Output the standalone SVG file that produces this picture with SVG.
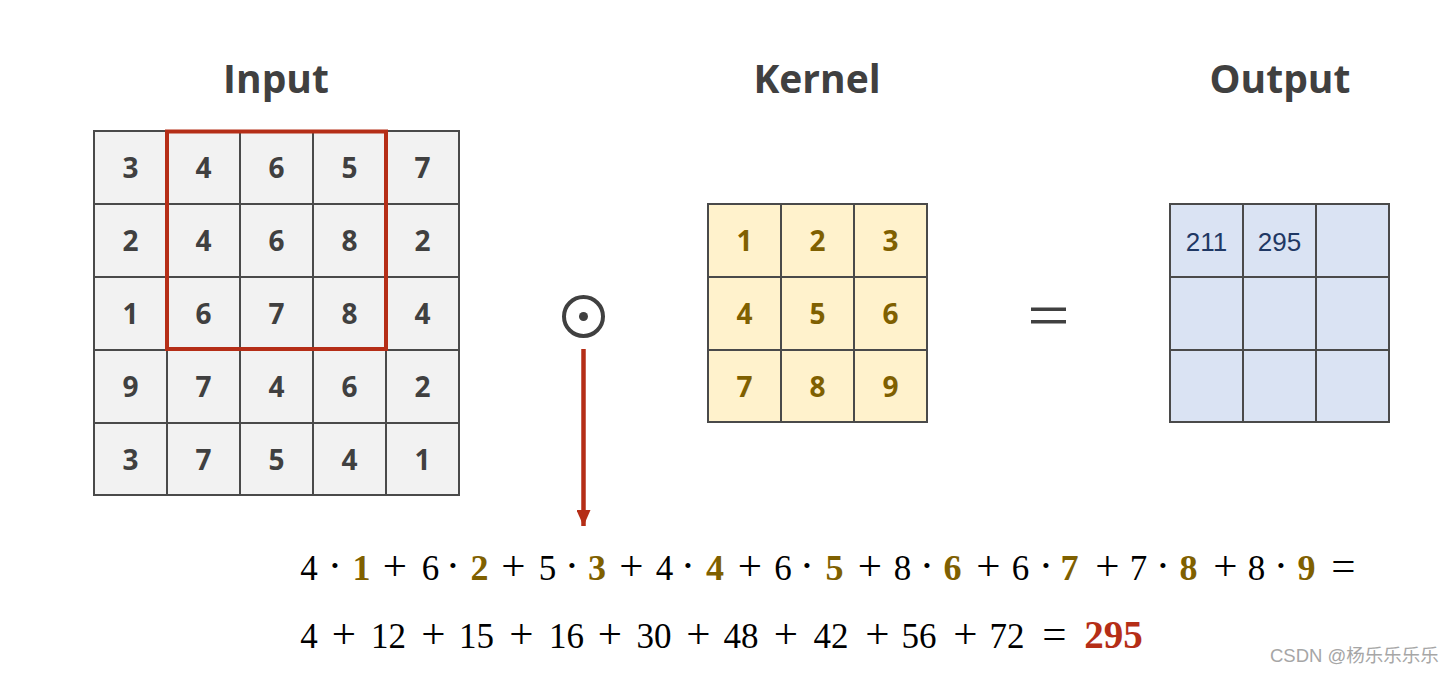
<svg xmlns="http://www.w3.org/2000/svg" width="1455" height="673" viewBox="0 0 1455 673">
<style>
.title{font-family:"Open Sans","Noto Sans","DejaVu Sans",sans-serif;font-weight:bold;font-size:39px;fill:#404040;text-anchor:middle}
.cell{stroke:#4a4a4a;stroke-width:2}
.inp{fill:#F2F2F2}
.ker{fill:#FFF2CC}
.out{fill:#DAE3F3}
.num{font-family:"Open Sans","Noto Sans","DejaVu Sans",sans-serif;font-weight:bold;font-size:28px;text-anchor:middle}
.ni{fill:#404040}
.nk{fill:#7F6000}
.no{font-family:"Liberation Sans",Arial,sans-serif;font-size:26px;fill:#1F3864;text-anchor:middle}
.eq{font-family:"Liberation Serif","DejaVu Serif",serif;font-size:35px;fill:#000;text-anchor:middle}
.op{font-size:43px}
.b{font-weight:bold;fill:#7F6000;font-size:36px}
.r{font-weight:bold;fill:#B52E17;font-size:39px}
.wm{font-family:"Liberation Sans","Noto Sans CJK SC",sans-serif;font-size:18.5px;fill:#A6A6A6}
</style>
<defs>
<marker id="ah" markerWidth="16" markerHeight="14" refX="16" refY="7" orient="auto" markerUnits="userSpaceOnUse" viewBox="0 0 16 14">
<path d="M0,0 L16,7 L0,14 Z" fill="#B52E17"/>
</marker>
</defs>
<rect width="1455" height="673" fill="#FFFFFF"/>

<g id="titles">
<text class="title" x="276" y="93">Input</text>
<text class="title" x="817" y="93">Kernel</text>
<text class="title" x="1280" y="93">Output</text>
</g>

<g id="input">
<g class="cell inp">
<rect x="94" y="131" width="73" height="73"/><rect x="167" y="131" width="73" height="73"/><rect x="240" y="131" width="73" height="73"/><rect x="313" y="131" width="73" height="73"/><rect x="386" y="131" width="73" height="73"/>
<rect x="94" y="204" width="73" height="73"/><rect x="167" y="204" width="73" height="73"/><rect x="240" y="204" width="73" height="73"/><rect x="313" y="204" width="73" height="73"/><rect x="386" y="204" width="73" height="73"/>
<rect x="94" y="277" width="73" height="73"/><rect x="167" y="277" width="73" height="73"/><rect x="240" y="277" width="73" height="73"/><rect x="313" y="277" width="73" height="73"/><rect x="386" y="277" width="73" height="73"/>
<rect x="94" y="350" width="73" height="73"/><rect x="167" y="350" width="73" height="73"/><rect x="240" y="350" width="73" height="73"/><rect x="313" y="350" width="73" height="73"/><rect x="386" y="350" width="73" height="73"/>
<rect x="94" y="423" width="73" height="72"/><rect x="167" y="423" width="73" height="72"/><rect x="240" y="423" width="73" height="72"/><rect x="313" y="423" width="73" height="72"/><rect x="386" y="423" width="73" height="72"/>
</g>
<g class="num ni">
<text x="130.5" y="178">3</text><text x="203.5" y="178">4</text><text x="276.5" y="178">6</text><text x="349.5" y="178">5</text><text x="422.5" y="178">7</text>
<text x="130.5" y="251">2</text><text x="203.5" y="251">4</text><text x="276.5" y="251">6</text><text x="349.5" y="251">8</text><text x="422.5" y="251">2</text>
<text x="130.5" y="324">1</text><text x="203.5" y="324">6</text><text x="276.5" y="324">7</text><text x="349.5" y="324">8</text><text x="422.5" y="324">4</text>
<text x="130.5" y="397">9</text><text x="203.5" y="397">7</text><text x="276.5" y="397">4</text><text x="349.5" y="397">6</text><text x="422.5" y="397">2</text>
<text x="130.5" y="470">3</text><text x="203.5" y="470">7</text><text x="276.5" y="470">5</text><text x="349.5" y="470">4</text><text x="422.5" y="470">1</text>
</g>
<rect id="window" x="167" y="131.5" width="219" height="217.5" fill="none" stroke="#B52E17" stroke-width="4"/>
</g>

<g id="hadamard">
<circle cx="583.5" cy="316.5" r="19.5" fill="none" stroke="#404040" stroke-width="4"/>
<circle cx="583.5" cy="316.5" r="4.5" fill="#404040"/>
</g>

<g id="kernel">
<g class="cell ker">
<rect x="708" y="204" width="73" height="73"/><rect x="781" y="204" width="73" height="73"/><rect x="854" y="204" width="73" height="73"/>
<rect x="708" y="277" width="73" height="73"/><rect x="781" y="277" width="73" height="73"/><rect x="854" y="277" width="73" height="73"/>
<rect x="708" y="350" width="73" height="72"/><rect x="781" y="350" width="73" height="72"/><rect x="854" y="350" width="73" height="72"/>
</g>
<g class="num nk">
<text x="744.5" y="251">1</text><text x="817.5" y="251">2</text><text x="890.5" y="251">3</text>
<text x="744.5" y="324">4</text><text x="817.5" y="324">5</text><text x="890.5" y="324">6</text>
<text x="744.5" y="397">7</text><text x="817.5" y="397">8</text><text x="890.5" y="397">9</text>
</g>
</g>

<g id="equals">
<rect x="1031" y="307.5" width="35" height="3.5" fill="#404040"/>
<rect x="1031" y="320" width="35" height="3.5" fill="#404040"/>
</g>

<g id="output">
<g class="cell out">
<rect x="1170" y="204" width="73" height="73"/><rect x="1243" y="204" width="73" height="73"/><rect x="1316" y="204" width="73" height="73"/>
<rect x="1170" y="277" width="73" height="73"/><rect x="1243" y="277" width="73" height="73"/><rect x="1316" y="277" width="73" height="73"/>
<rect x="1170" y="350" width="73" height="72"/><rect x="1243" y="350" width="73" height="72"/><rect x="1316" y="350" width="73" height="72"/>
</g>
<text class="no" x="1206.5" y="251">211</text>
<text class="no" x="1279.5" y="251">295</text>
</g>

<g id="connectors">
<line x1="583.5" y1="349" x2="583.5" y2="526" stroke="#B52E17" stroke-width="4.5" marker-end="url(#ah)"/>
</g>

<g id="equation">
<text class="eq" y="580"><tspan x="309">4</tspan><tspan x="335" class="op">·</tspan><tspan x="361.5" class="b">1</tspan><tspan x="395" class="op">+</tspan><tspan x="430.5">6</tspan><tspan x="453" class="op">·</tspan><tspan x="479.5" class="b">2</tspan><tspan x="513.5" class="op">+</tspan><tspan x="547.5">5</tspan><tspan x="572" class="op">·</tspan><tspan x="597" class="b">3</tspan><tspan x="631.5" class="op">+</tspan><tspan x="664.5">4</tspan><tspan x="688" class="op">·</tspan><tspan x="715" class="b">4</tspan><tspan x="750" class="op">+</tspan><tspan x="783">6</tspan><tspan x="807" class="op">·</tspan><tspan x="834.5" class="b">5</tspan><tspan x="870" class="op">+</tspan><tspan x="902.5">8</tspan><tspan x="927" class="op">·</tspan><tspan x="952.5" class="b">6</tspan><tspan x="988.5" class="op">+</tspan><tspan x="1020.5">6</tspan><tspan x="1046" class="op">·</tspan><tspan x="1069.5" class="b">7</tspan><tspan x="1107.5" class="op">+</tspan><tspan x="1138.5">7</tspan><tspan x="1163" class="op">·</tspan><tspan x="1188.5" class="b">8</tspan><tspan x="1225.5" class="op">+</tspan><tspan x="1256.5">8</tspan><tspan x="1281" class="op">·</tspan><tspan x="1306.5" class="b">9</tspan><tspan x="1343.5" class="op">=</tspan></text>
<text class="eq" y="648"><tspan x="309">4</tspan><tspan x="344" class="op">+</tspan><tspan x="388.5">12</tspan><tspan x="433.5" class="op">+</tspan><tspan x="476.5">15</tspan><tspan x="521.5" class="op">+</tspan><tspan x="566.5">16</tspan><tspan x="610" class="op">+</tspan><tspan x="654">30</tspan><tspan x="698.5" class="op">+</tspan><tspan x="741">48</tspan><tspan x="786" class="op">+</tspan><tspan x="831">42</tspan><tspan x="877.5" class="op">+</tspan><tspan x="919">56</tspan><tspan x="965.5" class="op">+</tspan><tspan x="1007">72</tspan><tspan x="1054.5" class="op">=</tspan><tspan x="1113.5" class="r">295</tspan></text>
</g>

<text class="wm" x="1270" y="662">CSDN @杨乐乐乐乐</text>
</svg>
